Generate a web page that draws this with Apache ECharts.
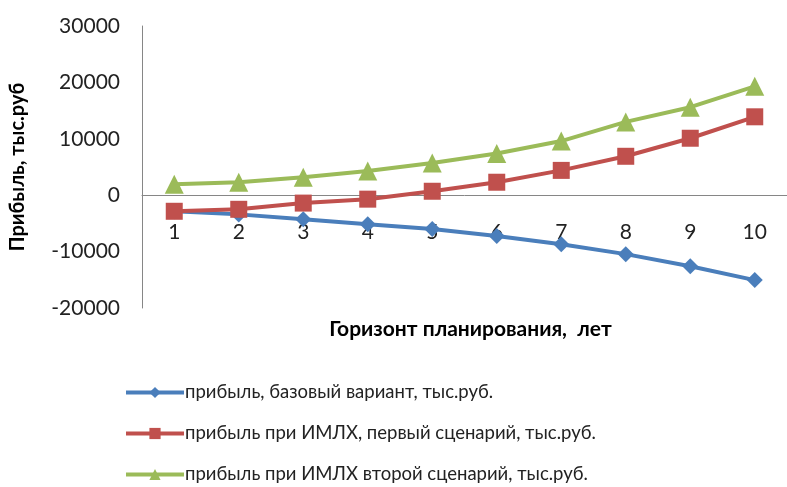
<!DOCTYPE html>
<html>
<head>
<meta charset="utf-8">
<script src="https://cdn.jsdelivr.net/npm/echarts@6/dist/echarts.min.js"></script>
<style>
  html, body { margin: 0; padding: 0; background: #fff; }
  #chart { width: 787px; height: 487px; }
</style>
</head>
<body>
<div id="chart"></div>
<script>
// годы горизонта планирования
const years = ['1', '2', '3', '4', '5', '6', '7', '8', '9', '10']
// прибыль, тыс.руб
const baseProfit = [-2850, -3400, -4250, -5150, -6000, -7250, -8700, -10450, -12600, -15050]
const firstScenario = [-2850, -2500, -1400, -700, 700, 2300, 4400, 6900, 10100, 13900]
const secondScenario = [1950, 2300, 3200, 4300, 5700, 7400, 9600, 13000, 15600, 19300]

const seriesNames = [
  'прибыль, базовый вариант, тыс.руб.',
  'прибыль при ИМЛХ, первый сценарий, тыс.руб.',
  'прибыль при ИМЛХ второй сценарий, тыс.руб.'
]

const font = 'Lato, "Liberation Sans", sans-serif'
const chart = echarts.init(document.getElementById('chart'))

const option = {
  animation: false,
  grid: { left: 140, right: -9, top: 26, bottom: 179 },
  legend: {
    orient: 'vertical',
    left: 119,
    top: 378,
    height: 109,
    itemWidth: 58,
    itemHeight: 14,
    itemGap: 22,
    lineStyle: { width: 4 },
    textStyle: { fontFamily: font, fontSize: 18.5, color: '#222', padding: [0, 0, 0, -4] },
    data: seriesNames
  },
  xAxis: {
    type: 'category',
    data: years,
    boundaryGap: true,
    offset: -113,
    name: 'Горизонт планирования,  лет',
    nameLocation: 'middle',
    nameGap: 124,
    nameTextStyle: { fontFamily: font, fontSize: 21, fontWeight: 'bold', color: '#000', padding: [0, 0, 0, 12] },
    axisLine: { onZero: false, lineStyle: { color: '#868686', width: 1 } },
    axisTick: { show: false },
    axisLabel: { margin: 27, fontFamily: font, fontSize: 21, color: '#222' }
  },
  yAxis: {
    type: 'value',
    min: -20000,
    max: 30000,
    interval: 10000,
    name: 'Прибыль, тыс.руб',
    nameLocation: 'middle',
    nameGap: 114,
    nameTextStyle: { fontFamily: font, fontSize: 20, fontWeight: 'bold', color: '#000' },
    axisLine: { show: true, lineStyle: { color: '#868686', width: 1 } },
    axisTick: { show: false },
    splitLine: { show: false },
    axisLabel: {
      margin: 22, fontFamily: font, fontSize: 21, color: '#222',
      formatter: v => String(v)
    }
  },
  series: [
    {
      name: seriesNames[0],
      type: 'line',
      data: baseProfit,
      symbol: 'diamond',
      symbolSize: 16,
      lineStyle: { width: 4, color: '#4a7ebb' },
      itemStyle: { color: '#4a7ebb' }
    },
    {
      name: seriesNames[1],
      type: 'line',
      data: firstScenario,
      symbol: 'rect',
      symbolSize: 17,
      lineStyle: { width: 4, color: '#c0504d' },
      itemStyle: { color: '#c0504d' }
    },
    {
      name: seriesNames[2],
      type: 'line',
      data: secondScenario,
      symbol: 'triangle',
      symbolSize: 19,
      lineStyle: { width: 4, color: '#9bbb59' },
      itemStyle: { color: '#9bbb59' }
    }
  ]
}
chart.setOption(option)
</script>
</body>
</html>
